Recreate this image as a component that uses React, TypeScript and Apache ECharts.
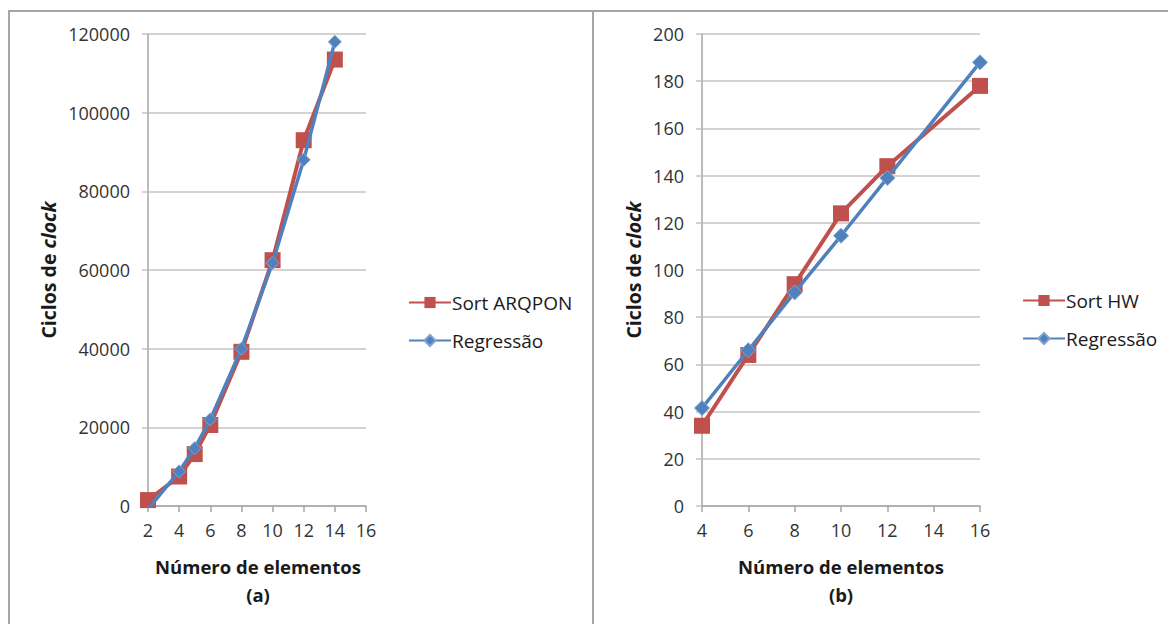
import React, { useEffect, useRef } from "react";
import * as echarts from "echarts";

const xA = [2, 4, 5, 6, 8, 10, 12, 14];
const sortArqpon = [1500, 7500, 13200, 20600, 39200, 62500, 93000, 113500];
const regA = [-800, 8800, 14700, 22000, 40000, 61800, 88000, 118000];

const xB = [4, 6, 8, 10, 12, 16];
const sortHW = [34, 64, 94, 124, 144, 178];
const regB = [41.5, 66, 90.5, 114.5, 139, 188];

const RED = "#c0504d";
const BLUE = "#4f81bd";
const FONT = "Open Sans";
const GRID = "#c4c4c4";
const AXIS = "#a6a6a6";
const LABEL = "#333333";
const TITLE = "#1a1a1a";

const pairs = (xs: number[], ys: number[]) => xs.map((x, i) => [x, ys[i]]);

export default function App() {
  const ref = useRef<HTMLDivElement>(null);
  useEffect(() => {
    const chart = echarts.init(ref.current!, undefined, { renderer: "svg" });
    const xAxisBase = (min: number, gridIndex: number) => ({
      type: "value" as const,
      gridIndex,
      min,
      max: 16,
      interval: 2,
      axisLine: { show: true, onZero: false, lineStyle: { color: AXIS, width: 1.5 } },
      axisTick: { show: true, length: 6, lineStyle: { color: AXIS, width: 1.5 } },
      splitLine: { show: false },
      axisLabel: { color: LABEL, fontFamily: FONT, fontSize: 18, margin: 15, formatter: (v: number) => String(v) },
    });
    const yAxisBase = (max: number, interval: number, gridIndex: number) => ({
      type: "value" as const,
      gridIndex,
      min: 0,
      max,
      interval,
      axisLine: { show: true, lineStyle: { color: AXIS, width: 1.5 } },
      axisTick: { show: true, length: 6, lineStyle: { color: GRID, width: 1.5 } },
      splitLine: { show: true, lineStyle: { color: GRID, width: 1.5 } },
      axisLabel: { color: LABEL, fontFamily: FONT, fontSize: 18, margin: 18, formatter: (v: number) => String(v) },
    });
    const redSeries = (name: string, data: number[][], idx: number) => ({
      name,
      type: "line" as const,
      xAxisIndex: idx,
      yAxisIndex: idx,
      data,
      symbol: "rect",
      symbolSize: 16,
      lineStyle: { color: RED, width: 4 },
      itemStyle: { color: RED },
      z: 2,
    });
    const blueSeries = (name: string, data: number[][], idx: number, size: number) => ({
      name,
      type: "line" as const,
      xAxisIndex: idx,
      yAxisIndex: idx,
      data,
      symbol: "diamond",
      symbolSize: size,
      lineStyle: { color: BLUE, width: 3.5 },
      itemStyle: { color: BLUE, borderColor: "#7fa3d3", borderWidth: 1 },
      z: 3,
      clip: true,
    });
    const yTitle = (x: number, y: number) => ({
      type: "text",
      x,
      y,
      rotation: Math.PI / 2,
      style: {
        text: "{b|Ciclos de }{i|clock}",
        align: "center",
        verticalAlign: "middle",
        rich: {
          b: { fontFamily: FONT, fontWeight: "bold", fontSize: 19.5, fill: TITLE },
          i: { fontFamily: FONT, fontWeight: "bold", fontStyle: "italic", fontSize: 19.5, fill: TITLE },
        },
      },
    });
    const txt = (x: number, y: number, text: string) => ({
      type: "text",
      x,
      y,
      style: {
        text,
        align: "center",
        verticalAlign: "middle",
        fontFamily: FONT,
        fontWeight: "bold",
        fontSize: 18.5,
        fill: TITLE,
      },
    });
    const legendBase = (left: number, top: number, data: string[]) => ({
      orient: "vertical" as const,
      left,
      top,
      data,
      itemWidth: 42,
      itemHeight: 14,
      itemGap: 19,
      selectedMode: false,
      textStyle: { fontFamily: FONT, fontSize: 19, color: TITLE, padding: [0, 0, 0, -4] },
    });
    chart.setOption({
      animation: false,
      backgroundColor: "#ffffff",
      grid: [
        { left: 148, top: 34, width: 218, height: 472 },
        { left: 702, top: 34, width: 278, height: 472 },
      ],
      xAxis: [xAxisBase(2, 0), xAxisBase(4, 1)],
      yAxis: [yAxisBase(120000, 20000, 0), yAxisBase(200, 20, 1)],
      legend: [
        legendBase(403, 288, ["Sort ARQPON", "Regressão"]),
        legendBase(1017, 286, ["Sort HW", "Regressão"]),
      ],
      series: [
        redSeries("Sort ARQPON", pairs(xA, sortArqpon), 0),
        blueSeries("Regressão", pairs(xA, regA), 0, 13),
        redSeries("Sort HW", pairs(xB, sortHW), 1),
        blueSeries("Regressão", pairs(xB, regB), 1, 15),
      ],
      graphic: [
        { type: "line", shape: { x1: 8, y1: 11, x2: 1168, y2: 11 }, style: { stroke: "#a6a6a6", lineWidth: 2 } },
        { type: "line", shape: { x1: 9, y1: 11, x2: 9, y2: 624 }, style: { stroke: "#a6a6a6", lineWidth: 2 } },
        { type: "line", shape: { x1: 593, y1: 11, x2: 593, y2: 624 }, style: { stroke: "#a6a6a6", lineWidth: 2 } },
        yTitle(48, 270),
        yTitle(633, 270),
        txt(258, 566, "Número de elementos"),
        txt(258, 594, "(a)"),
        txt(841, 566, "Número de elementos"),
        txt(841, 594, "(b)"),
      ],
    });
    return () => chart.dispose();
  }, []);
  return (
    <div
      ref={ref}
      style={{ position: "fixed", left: 0, top: 0, width: 1168, height: 624, background: "#fff" }}
    />
  );
}
